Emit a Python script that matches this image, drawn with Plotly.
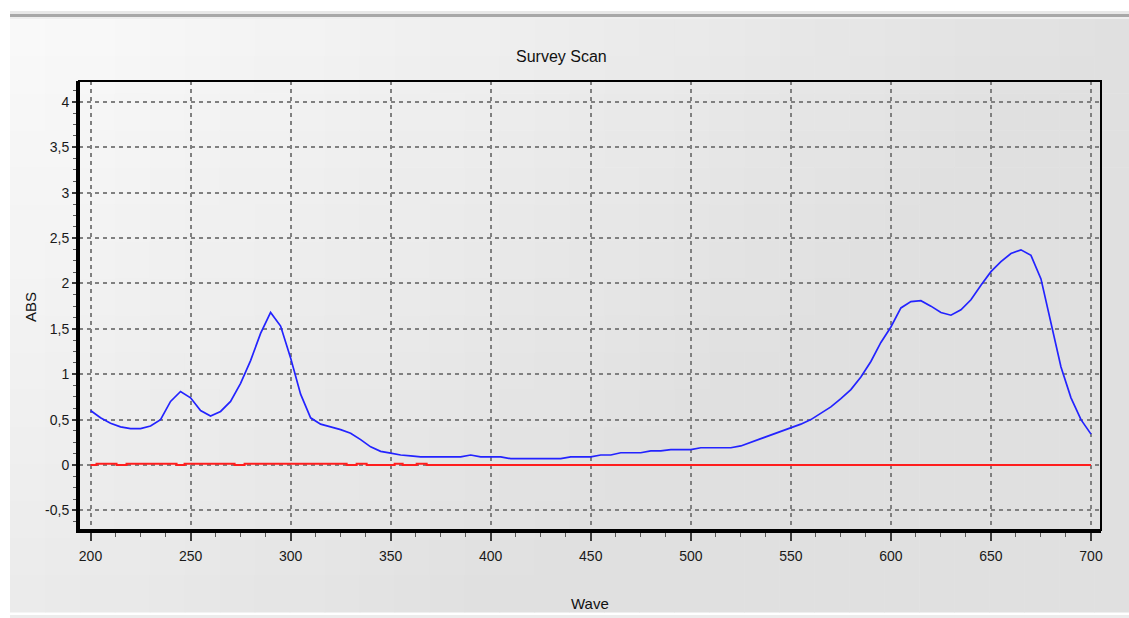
import plotly.graph_objects as go

# ---- data ----
wave = [200, 205, 210, 215, 220, 225, 230, 235, 240, 245, 250, 255, 260, 265, 270, 275,
        280, 285, 290, 295, 300, 305, 310, 315, 320, 325, 330, 335, 340, 345, 350, 355,
        360, 365, 370, 375, 380, 385, 390, 395, 400, 405, 410, 415, 420, 425, 430, 435,
        440, 445, 450, 455, 460, 465, 470, 475, 480, 485, 490, 495, 500, 505, 510, 515,
        520, 525, 530, 535, 540, 545, 550, 555, 560, 565, 570, 575, 580, 585, 590, 595,
        600, 605, 610, 615, 620, 625, 630, 635, 640, 645, 650, 655, 660, 665, 670, 675,
        680, 685, 690, 695, 700]
abs_sample = [0.60, 0.52, 0.46, 0.42, 0.40, 0.40, 0.43, 0.50, 0.70, 0.81, 0.74, 0.60, 0.54, 0.59, 0.70, 0.90,
              1.15, 1.45, 1.68, 1.53, 1.18, 0.78, 0.52, 0.45, 0.42, 0.39, 0.35, 0.28, 0.20, 0.15, 0.13, 0.11,
              0.10, 0.09, 0.09, 0.09, 0.09, 0.09, 0.11, 0.09, 0.09, 0.09, 0.07, 0.07, 0.07, 0.07, 0.07, 0.07,
              0.09, 0.09, 0.09, 0.11, 0.11, 0.135, 0.135, 0.135, 0.155, 0.155, 0.17, 0.17, 0.17, 0.19, 0.19, 0.19,
              0.19, 0.21, 0.25, 0.29, 0.33, 0.37, 0.41, 0.45, 0.50, 0.57, 0.64, 0.73, 0.83, 0.97, 1.14, 1.35,
              1.52, 1.73, 1.80, 1.81, 1.75, 1.68, 1.65, 1.71, 1.82, 1.98, 2.13, 2.24, 2.33, 2.37, 2.31, 2.05,
              1.57, 1.08, 0.74, 0.50, 0.34]

base_wave = [200, 203, 213, 218, 243, 247, 272, 277, 328, 333, 338, 352, 356, 363, 368, 700]
base_abs = [0, 0.015, 0, 0.015, 0, 0.015, 0, 0.015, 0, 0.015, 0, 0.015, 0, 0.015, 0, 0]

x_ticks = [200, 250, 300, 350, 400, 450, 500, 550, 600, 650, 700]
y_ticks = [-0.5, 0, 0.5, 1, 1.5, 2, 2.5, 3, 3.5, 4]
y_tick_text = ["-0,5", "0", "0,5", "1", "1,5", "2", "2,5", "3", "3,5", "4"]

# ---- figure geometry (pixels) ----
W, H = 1129, 618
L, R, T, B = 79, 1101, 81, 530


def px_x(p):
    return (p - L) / (R - L)


def px_y(p):
    return (B - p) / (B - T)


FONT = "Liberation Sans, Arial, sans-serif"

fig = go.Figure()
fig.add_trace(go.Scatter(x=base_wave, y=base_abs, mode="lines", line_shape="hv",
                         line=dict(color="rgb(255,30,30)", width=2), showlegend=False,
                         hoverinfo="skip"))
fig.add_trace(go.Scatter(x=wave, y=abs_sample, mode="lines",
                         line=dict(color="rgb(35,35,255)", width=1.7), showlegend=False))

shapes = []
# background gradient (decorative)
gx0, gx1, gy0, gy1 = 10, 1129, 19, 612
NC, NR = 32, 16
for i in range(NC):
    for j in range(NR):
        u = (i + 0.5) / NC
        v = (j + 0.5) / NR
        c = int(round(max(224, 250 - 26 * u - 15 * v)))
        xa = gx0 + (gx1 - gx0) * i / NC
        xb = gx0 + (gx1 - gx0) * (i + 1) / NC
        ya = gy0 + (gy1 - gy0) * j / NR
        yb = gy0 + (gy1 - gy0) * (j + 1) / NR
        shapes.append(dict(type="rect", xref="paper", yref="paper", layer="below",
                           x0=px_x(xa), x1=px_x(xb + 0.6), y0=px_y(yb + 0.6), y1=px_y(ya),
                           line=dict(width=0), fillcolor=f"rgb({c},{c},{c})"))
# top bar
for (ya, yb, col) in [(11, 14, "rgb(232,232,232)"), (14, 17, "rgb(168,168,168)"), (17, 19, "rgb(238,238,238)")]:
    shapes.append(dict(type="rect", xref="paper", yref="paper", layer="below",
                       x0=px_x(10), x1=px_x(1129), y0=px_y(yb), y1=px_y(ya),
                       line=dict(width=0), fillcolor=col))
# bottom strip
shapes.append(dict(type="rect", xref="paper", yref="paper", layer="below",
                   x0=px_x(10), x1=px_x(1129), y0=px_y(618), y1=px_y(615),
                   line=dict(width=0), fillcolor="rgb(236,236,236)"))
# plot frame
shapes.append(dict(type="rect", xref="x domain", yref="y domain", layer="above",
                   x0=0, x1=1, y0=0, y1=1, line=dict(color="black", width=2)))

fig.update_layout(
    width=W, height=H,
    margin=dict(l=L, r=W - R, t=T, b=H - B, pad=0),
    paper_bgcolor="white",
    plot_bgcolor="rgba(0,0,0,0)",
    font=dict(family=FONT, size=14, color="#1a1a1a"),
    showlegend=False,
    shapes=shapes,
    annotations=[
        dict(text="Survey Scan", xref="paper", yref="paper", x=px_x(561), y=px_y(56),
             showarrow=False, font=dict(size=16, color="#111111", family=FONT),
             xanchor="center", yanchor="middle"),
        dict(text="Wave", xref="paper", yref="paper", x=px_x(590), y=px_y(603),
             showarrow=False, font=dict(size=15, color="#111111", family=FONT),
             xanchor="center", yanchor="middle"),
        dict(text="ABS", xref="paper", yref="paper", x=px_x(30), y=px_y(307),
             showarrow=False, textangle=-90, font=dict(size=15, color="#111111", family=FONT),
             xanchor="center", yanchor="middle"),
    ],
)

fig.update_xaxes(
    range=[194.25, 705], tickvals=x_ticks, ticktext=[str(v) for v in x_ticks],
    showgrid=True, gridcolor="rgb(128,128,128)", gridwidth=1.5, griddash="4px,4px",
    zeroline=False, showline=True, linecolor="black", linewidth=3,
    ticks="outside", ticklen=8, tickwidth=1.5, tickcolor="rgb(60,60,60)",
    minor=dict(dtick=12.5, tick0=200, ticks="outside", ticklen=4, tickwidth=1.2,
               tickcolor="rgb(90,90,90)", showgrid=False),
    tickfont=dict(size=14, color="#1a1a1a"), ticklabelstandoff=3,
)
fig.update_yaxes(
    range=[-0.716, 4.23], tickvals=y_ticks, ticktext=y_tick_text,
    showgrid=True, gridcolor="rgb(128,128,128)", gridwidth=1.5, griddash="4px,4px",
    zeroline=False, showline=True, linecolor="black", linewidth=3,
    ticks="outside", ticklen=4, tickwidth=1.5, tickcolor="rgb(60,60,60)",
    minor=dict(dtick=0.125, tick0=0, ticks="outside", ticklen=3, tickwidth=1.2,
               tickcolor="rgb(90,90,90)", showgrid=False),
    tickfont=dict(size=14, color="#1a1a1a"),
)

fig.write_html("out.html", config={"displayModeBar": False},
               post_script="document.body.style.margin='0';")
